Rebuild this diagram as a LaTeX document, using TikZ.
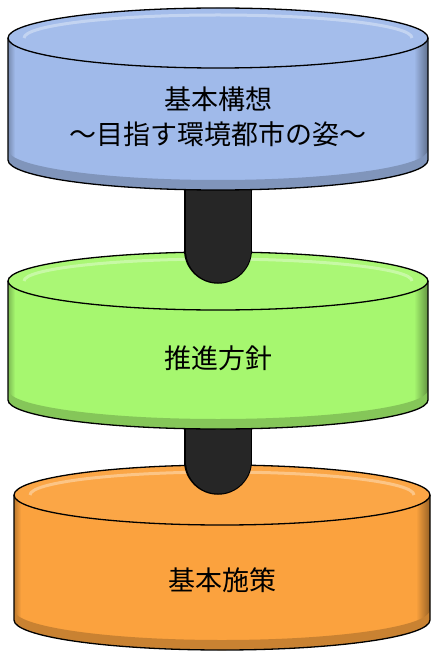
\documentclass[tikz,border=0pt]{standalone}
\usepackage{fontspec}
\newfontfamily\jpfont{Noto Sans CJK JP}
\usepackage{tikz}
\usetikzlibrary{positioning}

\definecolor{visionblue}{HTML}{A0BAEA}
\definecolor{policygreen}{HTML}{A6F76F}
\definecolor{measureorange}{HTML}{FBA23E}
\definecolor{stemgray}{HTML}{262626}

\tikzset{
  rim/.style={draw=black, line width=1.3pt},
  stemrim/.style={draw=black, line width=67.5pt, line cap=round},
  stem/.style={draw=stemgray, line width=65pt, line cap=round},
  drumtext/.style={font=\jpfont\fontsize{27}{35}\selectfont, align=center, inner sep=0pt},
}

% drum: #1 colour, #2 centre x, #3 half width, #4 top y, #5 bottom y, #6 y radius
\newcommand\drum[6]{%
  \fill[#1] (#2-#3,#4) -- (#2-#3,#5) arc[start angle=180,end angle=360,x radius=#3,y radius=#6]
    -- (#2+#3,#4) arc[start angle=0,end angle=180,x radius=#3,y radius=#6] -- cycle;
  \begin{scope}
    \clip (#2-#3,#4) -- (#2-#3,#5) arc[start angle=180,end angle=360,x radius=#3,y radius=#6] -- (#2+#3,#4) -- cycle;
    \shade[left color=#1, right color=#1!60!black] (#2+#3-14,#4) rectangle (#2+#3,#5-#6);
    \shade[left color=#1!75!black, right color=#1] (#2-#3,#4) rectangle (#2-#3+7,#5-#6);
    \fill[#1!80!black] (#2-#3,#5) arc[start angle=180,end angle=360,x radius=#3,y radius=#6]
      -- (#2+#3,#5+10) arc[start angle=0,end angle=-180,x radius=#3,y radius=#6] -- cycle;
  \end{scope}
  \fill[#1!96!white] (#2,#4) ellipse[x radius=#3, y radius=#6];
  \draw[white, opacity=.35, line width=3pt] (#2-#3+16,#4) arc[start angle=180,end angle=0,x radius=#3-16,y radius=#6-7];
  \draw[rim] (#2-#3,#4) -- (#2-#3,#5) arc[start angle=180,end angle=360,x radius=#3,y radius=#6] -- (#2+#3,#4);
  \draw[rim] (#2,#4) ellipse[x radius=#3, y radius=#6];
}

\begin{document}
\begin{tikzpicture}[x=1pt,y=1pt]
\useasboundingbox (0,0) rectangle (433,-652);

%% Coordinates
\coordinate (vision-base) at (218,-160);
\coordinate (policy-top) at (218,-281);
\coordinate (policy-base) at (218,-400);
\coordinate (measures-top) at (222,-495);
\coordinate (stemA-end) at (218,-250);
\coordinate (stemB-end) at (218,-461);

%% Drums, from the bottom up
\drum{measureorange}{222}{208}{-495}{-620}{30}
\draw[stemrim] (policy-base) -- (stemB-end);
\draw[stem] (policy-base) -- (stemB-end);
\drum{policygreen}{218}{210}{-281}{-400}{29}
\draw[stemrim] (vision-base) -- (stemA-end);
\draw[stem] (vision-base) -- (stemA-end);
\drum{visionblue}{218}{210}{-38}{-160}{30}

%% Labels
\node[drumtext] (vision) at (218,-117) {基本構想\\～目指す環境都市の姿～};
\node[drumtext] (policy) at (218,-358) {推進方針};
\node[drumtext] (measures) at (222,-580) {基本施策};
\end{tikzpicture}
\end{document}
